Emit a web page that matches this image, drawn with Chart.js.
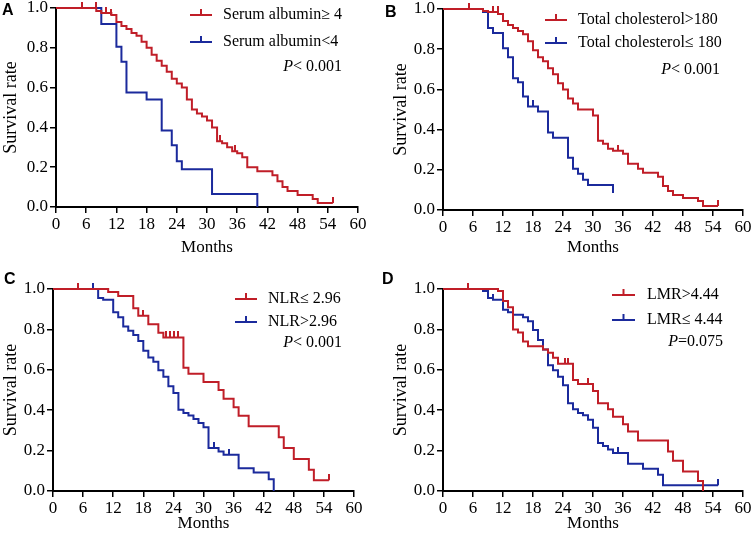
<!DOCTYPE html>
<html><head><meta charset="utf-8">
<script src="https://cdn.jsdelivr.net/npm/chart.js@4"></script>
<style>
html,body{margin:0;padding:0;background:#fff;}
#wrap{position:relative;width:753px;height:538px;overflow:hidden;background:#fff;}
canvas{position:absolute;}
</style></head><body>
<div id="wrap">
<canvas id="cA" width="376" height="262" style="left:0;top:0"></canvas>
<canvas id="cB" width="377" height="262" style="left:376px;top:0"></canvas>
<canvas id="cC" width="376" height="276" style="left:0;top:262px"></canvas>
<canvas id="cD" width="377" height="276" style="left:376px;top:262px"></canvas>
</div>
<script>
// ---- axis ticks ----
const monthTicks = [0,6,12,18,24,30,36,42,48,54,60];
const monthTickLabels = ['0','6','12','18','24','30','36','42','48','54','60'];
const survivalTicks = [0,0.2,0.4,0.6,0.8,1.0];
const survivalTickLabels = ['0.0','0.2','0.4','0.6','0.8','1.0'];

// ---- Panel A: Serum albumin ----
const aHighMonths = [0,8,9,11,12,13,14,15,16,17,18,19,20,21,22,23,24,25,26,27,28,29,30,31,32,33,34,35,36,37,38,40,43,44,45,46,48,51,52,55];
const aHighSurv   = [1,0.985,0.975,0.965,0.93,0.91,0.895,0.875,0.86,0.83,0.80,0.765,0.735,0.71,0.68,0.645,0.62,0.60,0.54,0.49,0.47,0.455,0.435,0.40,0.33,0.32,0.30,0.28,0.27,0.25,0.20,0.18,0.16,0.13,0.10,0.08,0.06,0.04,0.02,0.02];
const aHighCensMonths = [5.2,8,10,11,32.5,35.5,55];
const aHighCensSurv   = [1,1,0.975,0.965,0.33,0.28,0.02];
const aLowMonths = [0,9,12,13,14,18,21,23,24,25,31,40];
const aLowSurv   = [1,0.92,0.805,0.73,0.575,0.54,0.385,0.31,0.23,0.19,0.065,0];

// ---- Panel B: Total cholesterol ----
const bHighMonths = [0,8,9,11,12,13,14,15,16,17,18,19,20,21,22,23,24,25,26,27,30,31,32,33,34,36,37,39,40,43,44,45,46,48,51,52,55];
const bHighSurv   = [1,0.99,0.985,0.975,0.94,0.92,0.905,0.89,0.875,0.84,0.795,0.76,0.74,0.705,0.675,0.63,0.60,0.555,0.53,0.50,0.47,0.345,0.33,0.305,0.295,0.28,0.23,0.205,0.185,0.165,0.12,0.095,0.075,0.06,0.045,0.02,0.02];
const bHighCensMonths = [5.2,10,11,35,55];
const bHighCensSurv   = [1,0.985,0.985,0.295,0.02];
const bLowMonths = [0,8,9,10,12,13,14,15,16,17,19,21,22,25,26,27,28,29,34];
const bLowSurv   = [1,0.985,0.905,0.88,0.805,0.76,0.655,0.635,0.565,0.515,0.49,0.385,0.36,0.26,0.205,0.18,0.15,0.125,0.085];
const bLowCensMonths = [18];
const bLowCensSurv   = [0.515];

// ---- Panel C: NLR ----
const cLowMonths = [0,11,13,16,17,19,21,22,26,27,30,33,34,36,37,39,45,46,48,51,52,55];
const cLowSurv   = [1,0.985,0.965,0.905,0.867,0.826,0.784,0.76,0.61,0.58,0.54,0.50,0.457,0.415,0.373,0.32,0.266,0.213,0.158,0.105,0.053,0.053];
const cLowCensMonths = [5,18,22.5,23.3,24.2,25,55];
const cLowCensSurv   = [1,0.867,0.76,0.76,0.76,0.76,0.053];
const cHighMonths = [0,9,10,12,13,14,15,16,17,18,19,20,21,22,23,24,25,26,27,28,29,30,31,33,34,37,40,43,44];
const cHighSurv   = [1,0.955,0.947,0.885,0.86,0.814,0.793,0.772,0.742,0.694,0.661,0.64,0.598,0.565,0.518,0.485,0.402,0.386,0.374,0.357,0.337,0.316,0.213,0.196,0.18,0.113,0.091,0.058,0];
const cHighCensMonths = [5,8,32,35];
const cHighCensSurv   = [1,1,0.213,0.18];

// ---- Panel D: LMR ----
const dHighMonths = [0,11,12,13,14,15,16,17,20,21,22,23,26,27,30,31,33,34,36,37,39,45,46,48,51,52];
const dHighSurv   = [1,0.99,0.94,0.91,0.80,0.785,0.74,0.717,0.70,0.685,0.66,0.63,0.55,0.53,0.495,0.435,0.405,0.368,0.33,0.295,0.25,0.195,0.15,0.097,0.05,0];
const dHighCensMonths = [5,24.3,25,29];
const dHighCensSurv   = [1,0.63,0.63,0.53];
const dLowMonths = [0,8,9,10,12,13,14,16,17,18,19,20,21,22,23,24,25,26,27,28,29,30,31,32,33,34,37,40,43,44,55];
const dLowSurv   = [1,0.99,0.955,0.947,0.897,0.885,0.872,0.86,0.84,0.797,0.748,0.70,0.623,0.598,0.565,0.523,0.435,0.405,0.386,0.375,0.353,0.313,0.238,0.223,0.205,0.188,0.135,0.11,0.08,0.028,0.028];
const dLowCensMonths = [5,10,35,55];
const dLowCensSurv   = [1,0.947,0.188,0.028];

const RED = '#C01E28';
const BLUE = '#1B2A9C';
const SERIF = '"Liberation Serif","Times New Roman",serif';

function pts(ms, ss){ return ms.map((m,i)=>({x:m, y:ss[i]})); }
function tickImg(color){
  const c = document.createElement('canvas'); c.width = 2; c.height = 12;
  const g = c.getContext('2d'); g.fillStyle = color; g.fillRect(0,0,2,6);
  return c;
}
function curve(label, color, ms, ss){
  return {label, data: pts(ms,ss), borderColor: color, backgroundColor: color, borderWidth: 2,
          stepped: true, pointRadius: 0, fill: false, clip: false, legendItem: true};
}
function cens(color, ms, ss){
  return {label: '', data: pts(ms,ss), showLine: false, pointStyle: tickImg(color), pointRadius: 3,
          pointHoverRadius: 3, borderColor: color, backgroundColor: color, clip: false};
}

const kmDecor = {
  id: 'kmDecor',
  afterDraw(chart, args, o){
    const ctx = chart.ctx; ctx.save();
    ctx.fillStyle = '#000'; ctx.textAlign = 'left'; ctx.textBaseline = 'alphabetic';
    ctx.font = 'bold 16px "Liberation Sans", Arial, sans-serif';
    ctx.fillText(o.letter, o.letterX, o.letterY);
    ctx.font = '16px ' + SERIF; ctx.textBaseline = 'middle';
    const items = chart.data.datasets.filter(d => d.legendItem);
    items.forEach((d,i) => {
      const y = o.rows[i];
      ctx.strokeStyle = d.borderColor; ctx.lineWidth = 2;
      ctx.beginPath(); ctx.moveTo(o.lineX0, y); ctx.lineTo(o.lineX1, y); ctx.stroke();
      const mx = (o.lineX0 + o.lineX1) / 2;
      ctx.beginPath(); ctx.moveTo(mx, y); ctx.lineTo(mx, y - 6); ctx.stroke();
      ctx.fillStyle = '#000'; ctx.fillText(d.label, o.textX, y);
    });
    ctx.font = '16px ' + SERIF;
    const wRest = ctx.measureText(o.pRest).width;
    ctx.font = 'italic 16px ' + SERIF;
    const wP = ctx.measureText('P').width;
    ctx.fillText('P', o.pRight - wRest - wP, o.pY);
    ctx.font = '16px ' + SERIF;
    ctx.fillText(o.pRest, o.pRight - wRest, o.pY);
    ctx.restore();
  }
};

function makeChart(id, datasets, lay, deco){
  const tickFont = {family: SERIF, size: 17};
  new Chart(document.getElementById(id), {
    type: 'line',
    data: {datasets},
    options: {
      responsive: false, animation: false, events: [],
      layout: {padding: {left: lay.pl, right: lay.pr, top: lay.pt, bottom: lay.pb}},
      plugins: {legend: {display: false}, tooltip: {enabled: false}, kmDecor: deco},
      scales: {
        x: {
          type: 'linear', min: 0, max: 60,
          afterBuildTicks: s => { s.ticks = monthTicks.map(v => ({value: v})); },
          ticks: {font: tickFont, color: '#000', padding: 1, maxRotation: 0, autoSkip: false,
                  callback: (v, i) => monthTickLabels[i]},
          grid: {drawOnChartArea: false, drawTicks: true, tickLength: 6, color: '#000', lineWidth: 1.5},
          border: {display: true, color: '#000', width: 2},
          title: {display: true, text: 'Months', font: {family: SERIF, size: 17}, color: '#000', padding: 0},
          afterFit: s => { s.height = lay.xh; s.paddingLeft = 0; s.paddingRight = 0; }
        },
        y: {
          type: 'linear', min: 0, max: 1,
          afterBuildTicks: s => { s.ticks = survivalTicks.map(v => ({value: v})); },
          ticks: {font: tickFont, color: '#000', padding: 2, autoSkip: false,
                  callback: (v, i) => survivalTickLabels[i]},
          grid: {drawOnChartArea: false, drawTicks: true, tickLength: 6, color: '#000', lineWidth: 1.5},
          border: {display: true, color: '#000', width: 2},
          title: {display: true, text: 'Survival rate', font: {family: SERIF, size: 18}, color: '#000', padding: 0},
          afterFit: s => { s.width = lay.yw; s.paddingTop = 0; s.paddingBottom = 0; }
        }
      }
    },
    plugins: [kmDecor]
  });
}

makeChart('cA', [
  curve('Serum albumin\u2265 4', RED, aHighMonths, aHighSurv),
  curve('Serum albumin<4', BLUE, aLowMonths, aLowSurv),
  cens(RED, aHighCensMonths, aHighCensSurv)
], {pl: 0, yw: 56, pr: 18, pt: 8, xh: 51, pb: 4},
   {letter: 'A', letterX: 2, letterY: 15, rows: [15, 42], lineX0: 190, lineX1: 212, textX: 223,
    pRest: '< 0.001', pRight: 342, pY: 67});

makeChart('cB', [
  curve('Total cholesterol>180', RED, bHighMonths, bHighSurv),
  curve('Total cholesterol\u2264 180', BLUE, bLowMonths, bLowSurv),
  cens(RED, bHighCensMonths, bHighCensSurv),
  cens(BLUE, bLowCensMonths, bLowCensSurv)
], {pl: 14, yw: 53, pr: 10, pt: 9, xh: 48, pb: 4},
   {letter: 'B', letterX: 9, letterY: 17, rows: [20, 43], lineX0: 169, lineX1: 191, textX: 202,
    pRest: '< 0.001', pRight: 344, pY: 70});

makeChart('cC', [
  curve('NLR\u2264 2.96', RED, cLowMonths, cLowSurv),
  curve('NLR>2.96', BLUE, cHighMonths, cHighSurv),
  cens(RED, cLowCensMonths, cLowCensSurv),
  cens(BLUE, cHighCensMonths, cHighCensSurv)
], {pl: 0, yw: 53, pr: 22, pt: 27, xh: 43, pb: 4},
   {letter: 'C', letterX: 4, letterY: 22, rows: [37, 60], lineX0: 235, lineX1: 257, textX: 268,
    pRest: '< 0.001', pRight: 342, pY: 81});

makeChart('cD', [
  curve('LMR>4.44', RED, dHighMonths, dHighSurv),
  curve('LMR\u2264 4.44', BLUE, dLowMonths, dLowSurv),
  cens(RED, dHighCensMonths, dHighCensSurv),
  cens(BLUE, dLowCensMonths, dLowCensSurv)
], {pl: 14, yw: 53, pr: 10, pt: 27, xh: 43, pb: 4},
   {letter: 'D', letterX: 6, letterY: 22, rows: [33, 58], lineX0: 236, lineX1: 259, textX: 271,
    pRest: '=0.075', pRight: 347, pY: 80});
</script>
</body></html>
